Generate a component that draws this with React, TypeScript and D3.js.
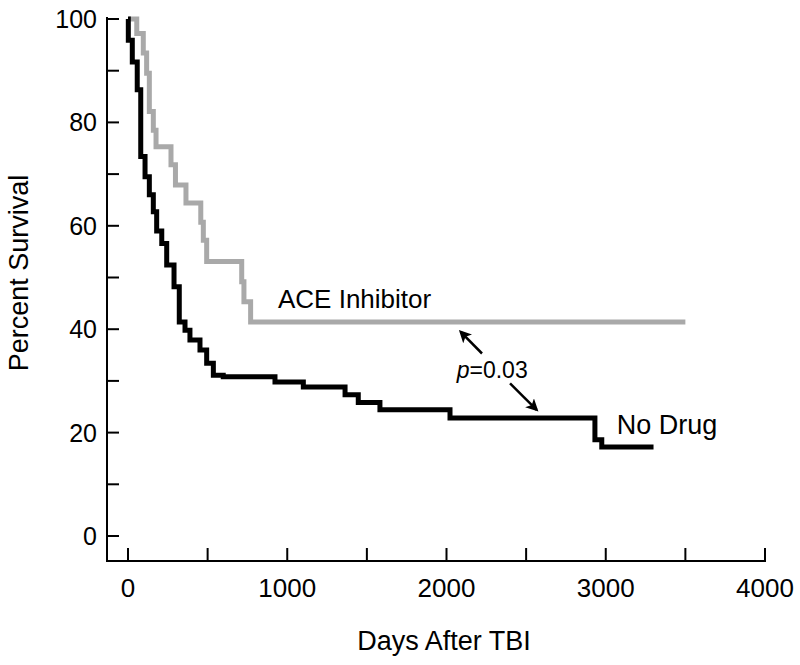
import React from "react";
import * as d3 from "d3";

const noDrugDays = [0, 2, 27, 58, 80, 107, 134, 159, 180, 212, 243, 289, 322, 358, 389, 452, 494, 536, 598, 923, 1101, 1363, 1446, 1582, 2022, 2932, 2975, 3300];
const noDrugSurv = [100, 95.9, 91.7, 86.3, 73.4, 69.5, 66.0, 62.7, 59.0, 56.6, 52.4, 48.2, 41.4, 39.8, 37.9, 36.0, 33.4, 31.1, 30.8, 29.8, 28.8, 27.3, 25.8, 24.4, 22.8, 18.6, 17.2, 17.2];

const aceDays = [5, 55, 96, 117, 134, 159, 176, 270, 298, 364, 457, 473, 494, 714, 728, 770, 3500];
const aceSurv = [100, 97.2, 93.4, 89.5, 82.1, 78.5, 75.3, 71.8, 67.9, 64.4, 60.7, 57.2, 53.1, 49.2, 45.3, 41.4, 41.4];

const xTicks = [0, 500, 1000, 1500, 2000, 2500, 3000, 3500, 4000];
const xTickLabels = [0, 1000, 2000, 3000, 4000];
const yTicks = [0, 10, 20, 30, 40, 50, 60, 70, 80, 90, 100];
const yTickLabels = [0, 20, 40, 60, 80, 100];

const W = 800;
const H = 665;
const FONT = "'Liberation Sans', Arial, Helvetica, sans-serif";

export default function App() {
  const x = d3.scaleLinear().domain([0, 4000]).range([128, 765]);
  const y = d3.scaleLinear().domain([0, 100]).range([536, 19]);
  const axisLeft = 107;
  const axisBottom = 561;

  const line = d3
    .line<[number, number]>()
    .x((d) => x(d[0]))
    .y((d) => y(d[1]))
    .curve(d3.curveStepAfter);

  const noDrug: [number, number][] = noDrugDays.map((d, i) => [d, noDrugSurv[i]]);
  const ace: [number, number][] = aceDays.map((d, i) => [d, aceSurv[i]]);

  const arrows = [
    { from: [2223, 35.3], to: [2089, 39.5] },
    { from: [2399, 29.5], to: [2566, 24.4] },
  ];

  return (
    <svg
      width={W}
      height={H}
      viewBox={`0 0 ${W} ${H}`}
      style={{ position: "absolute", left: 0, top: 0, background: "#fff" }}
    >
      <defs>
        <marker
          id="ah"
          viewBox="0 0 10 10"
          refX="8"
          refY="5"
          markerWidth="5"
          markerHeight="5"
          markerUnits="strokeWidth"
          orient="auto"
        >
          <path d="M0,0 L10,5 L0,10 L2.5,5 z" fill="#000" />
        </marker>
      </defs>
      <rect x={0} y={0} width={W} height={H} fill="#fff" />

      {/* axes */}
      <line x1={axisLeft} x2={axisLeft} y1={17} y2={axisBottom + 1} stroke="#000" strokeWidth={2} />
      <line x1={axisLeft - 1} x2={766} y1={axisBottom} y2={axisBottom} stroke="#000" strokeWidth={2} />
      {yTicks.map((t) => (
        <line key={"yt" + t} x1={axisLeft} x2={axisLeft + 12} y1={y(t)} y2={y(t)} stroke="#000" strokeWidth={2} />
      ))}
      {xTicks.map((t) => (
        <line key={"xt" + t} x1={x(t)} x2={x(t)} y1={axisBottom} y2={axisBottom - 13} stroke="#000" strokeWidth={2} />
      ))}
      {yTickLabels.map((t) => (
        <text
          key={"yl" + t}
          x={97}
          y={y(t)}
          dy="0.36em"
          textAnchor="end"
          fontFamily={FONT}
          fontSize={25}
          fill="#000"
        >
          {t}
        </text>
      ))}
      {xTickLabels.map((t) => (
        <text
          key={"xl" + t}
          x={x(t)}
          y={597}
          textAnchor="middle"
          fontFamily={FONT}
          fontSize={26}
          fill="#000"
        >
          {t}
        </text>
      ))}
      <text x={444} y={650} textAnchor="middle" fontFamily={FONT} fontSize={27} fill="#000">
        Days After TBI
      </text>
      <text
        transform={`translate(28,273) rotate(-90)`}
        textAnchor="middle"
        fontFamily={FONT}
        fontSize={27}
        fill="#000"
      >
        Percent Survival
      </text>

      {/* curves */}
      <path d={line(ace) || ""} fill="none" stroke="#a9a9a9" strokeWidth={5} strokeLinejoin="miter" />
      <path d={line(noDrug) || ""} fill="none" stroke="#000" strokeWidth={5} strokeLinejoin="miter" />

      {/* annotations */}
      <text x={x(942)} y={y(44.1)} fontFamily={FONT} fontSize={26} fill="#000">
        ACE Inhibitor
      </text>
      <text x={x(3069)} y={y(19.7)} fontFamily={FONT} fontSize={27} fill="#000">
        No Drug
      </text>
      <text x={x(2064)} y={y(30.5)} fontFamily={FONT} fontSize={23} fill="#000">
        <tspan fontStyle="italic">p</tspan>=0.03
      </text>
      {arrows.map((a, i) => (
        <line
          key={"ar" + i}
          x1={x(a.from[0])}
          y1={y(a.from[1])}
          x2={x(a.to[0])}
          y2={y(a.to[1])}
          stroke="#000"
          strokeWidth={2.5}
          markerEnd="url(#ah)"
        />
      ))}
    </svg>
  );
}
